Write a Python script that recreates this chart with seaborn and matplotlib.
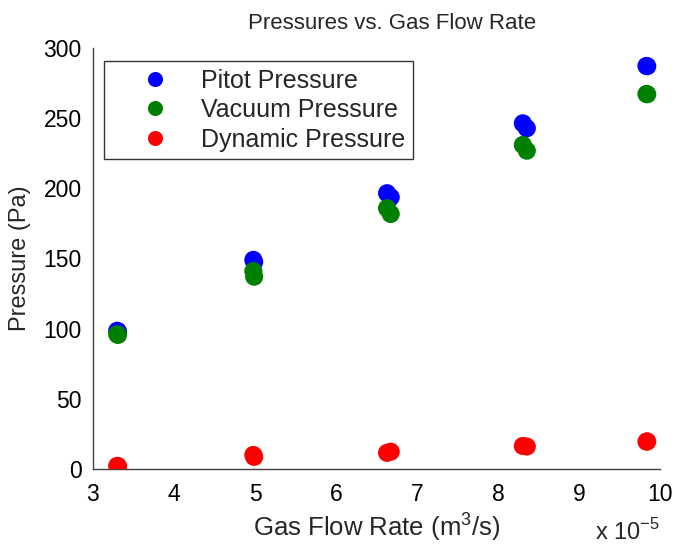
import matplotlib
matplotlib.use("Agg")
import matplotlib.pyplot as plt
import seaborn as sns
import pandas as pd

# Gas flow rate in units of 1e-5 m^3/s
flow_rate = [3.30, 3.31, 4.98, 4.99, 6.63, 6.675, 8.305, 8.354, 9.83, 9.84]
pitot = [98.5, 98.0, 149.0, 147.5, 196.5, 193.6, 246.3, 242.8, 287.2, 287.0]
vacuum = [96.0, 95.5, 141.0, 137.0, 185.8, 181.7, 230.9, 226.8, 267.2, 267.0]
dynamic = [2.2, 2.0, 10.0, 8.6, 11.5, 12.3, 16.4, 16.0, 19.5, 19.6]
series_names = ["Pitot Pressure", "Vacuum Pressure", "Dynamic Pressure"]
x_ticks = [3, 4, 5, 6, 7, 8, 9, 10]
y_ticks = [0, 50, 100, 150, 200, 250, 300]

rows = []
for name, vals in zip(series_names, [pitot, vacuum, dynamic]):
    for xv, yv in zip(flow_rate, vals):
        rows.append({"flow": xv, "pressure": yv, "series": name})
df = pd.DataFrame(rows)

sns.set_style("white")
plt.rcParams["font.family"] = ["Liberation Sans", "DejaVu Sans"]
plt.rcParams["mathtext.fontset"] = "custom"
plt.rcParams["mathtext.rm"] = "Liberation Sans"

fig = plt.figure(figsize=(6.73, 5.45), dpi=100)
ax = fig.add_axes([0.138, 0.1395, 0.843, 0.7725])

palette = {"Pitot Pressure": (0, 0, 1), "Vacuum Pressure": (0, 0.5, 0),
           "Dynamic Pressure": (1, 0, 0)}
sns.scatterplot(data=df, x="flow", y="pressure", hue="series", palette=palette,
                s=170, linewidth=0, ax=ax, legend=True, zorder=3)

ax.set_xlim(3, 10)
ax.set_ylim(0, 300)
ax.set_xticks(x_ticks)
ax.set_yticks(y_ticks)
ax.tick_params(direction="in", length=5, width=1, color="#404040",
               labelsize=16.5, labelcolor="black")
ax.tick_params(axis="x", pad=10)
ax.tick_params(axis="y", pad=8)
for side in ["top", "right"]:
    ax.spines[side].set_visible(False)
for side in ["left", "bottom"]:
    ax.spines[side].set_color("#404040")
    ax.spines[side].set_linewidth(1)

ax.set_xlabel("Gas Flow Rate (m$^3$/s)", fontsize=18.5, labelpad=3)
ax.set_ylabel("Pressure (Pa)", fontsize=17, labelpad=9)
ax.set_title("Pressures vs. Gas Flow Rate", fontsize=16, pad=14, x=0.527)
ax.text(1.0, -0.169, "x 10$^{-5}$", transform=ax.transAxes, ha="right",
        va="baseline", fontsize=17)

handles, labels = ax.get_legend_handles_labels()
leg = ax.legend(handles, labels, loc="upper left", bbox_to_anchor=(0.019, 0.969),
                borderaxespad=0, frameon=True, fancybox=False, edgecolor="black",
                fontsize=18, markerscale=0.83, handlelength=3.5,
                handletextpad=0.1, borderpad=0.3, labelspacing=0.22)
leg.get_frame().set_linewidth(1)

fig.savefig("out.png", dpi=100)
